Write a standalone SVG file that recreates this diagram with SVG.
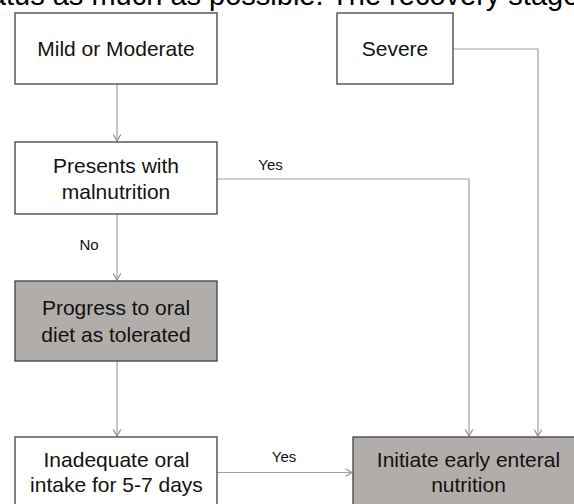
<svg xmlns="http://www.w3.org/2000/svg" width="574" height="504" viewBox="0 0 574 504">
<style>
.box{fill:#ffffff;stroke:#404040;stroke-width:1.3}
.gray{fill:#b1adab;stroke:#404040;stroke-width:1.3}
.t{font-family:"Liberation Sans",Arial,sans-serif;font-size:21px;fill:#111;text-anchor:middle}
.lbl{font-family:"Liberation Sans",Arial,sans-serif;font-size:15px;fill:#111;text-anchor:middle}
.c{fill:none;stroke:#a0a0a0;stroke-width:1.2}
</style>
<defs>
<marker id="arr" markerUnits="userSpaceOnUse" markerWidth="10" markerHeight="10" viewBox="-8 -5 10 10" refX="0" refY="0" orient="auto">
<path d="M-6.5,-3.8 L0,0 L-6.5,3.8" fill="none" stroke="#909090" stroke-width="1.2"/>
</marker>
</defs>
<text x="-32.7" y="5" font-family="Liberation Sans, Arial, sans-serif" font-size="29" fill="#000">status as much as possible. The recovery stage</text>
<g id="connectors">
<path class="c" d="M117,84 V141" marker-end="url(#arr)"/>
<path class="c" d="M117,214 V280" marker-end="url(#arr)"/>
<path class="c" d="M117,361 V436" marker-end="url(#arr)"/>
<path class="c" d="M217,179 H469 V436" marker-end="url(#arr)"/>
<path class="c" d="M453,49 H538 V436" marker-end="url(#arr)"/>
<path class="c" d="M217,472.5 H352" marker-end="url(#arr)"/>
<text class="lbl" x="270.5" y="170">Yes</text>
<text class="lbl" x="89" y="249.5">No</text>
<text class="lbl" x="284" y="461.5">Yes</text>
</g>
<g id="mild">
<rect class="box" x="15" y="13" width="202" height="71"/>
<text class="t" x="116" y="56">Mild or Moderate</text>
</g>
<g id="severe">
<rect class="box" x="337" y="13" width="116" height="71"/>
<text class="t" x="395" y="56">Severe</text>
</g>
<g id="presents">
<rect class="box" x="15" y="142" width="202" height="72"/>
<text class="t" x="116" y="173">Presents with</text>
<text class="t" x="116" y="199">malnutrition</text>
</g>
<g id="progress">
<rect class="gray" x="15" y="281" width="202" height="80"/>
<text class="t" x="116" y="315">Progress to oral</text>
<text class="t" x="116" y="341.5">diet as tolerated</text>
</g>
<g id="inadequate">
<rect class="box" x="15" y="437" width="202" height="90"/>
<text class="t" x="116.5" y="466.5">Inadequate oral</text>
<text class="t" x="116.5" y="491.5">intake for 5-7 days</text>
</g>
<g id="initiate">
<rect class="gray" x="353" y="437" width="232" height="90"/>
<text class="t" x="468.5" y="466.5">Initiate early enteral</text>
<text class="t" x="468.5" y="491.5">nutrition</text>
</g>
</svg>
